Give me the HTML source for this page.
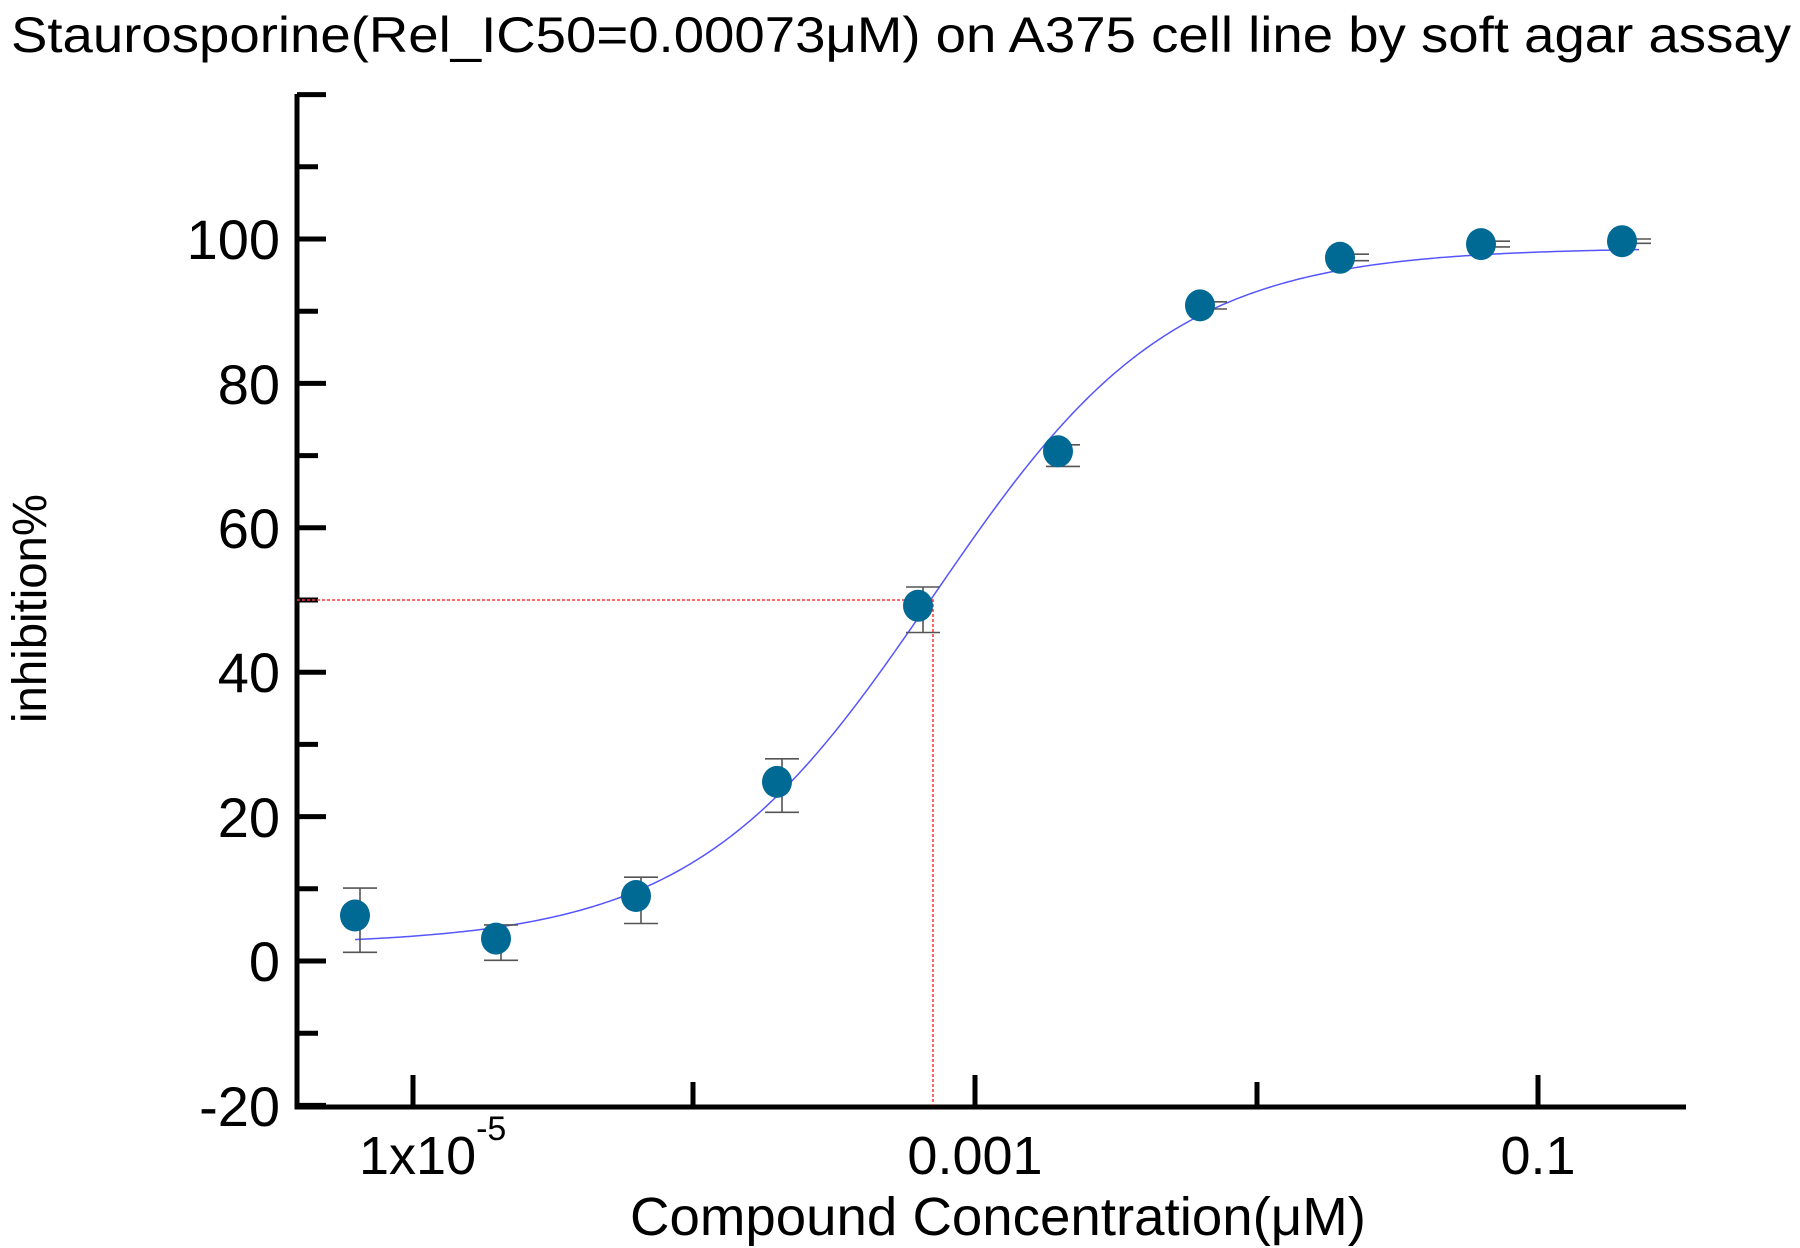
<!DOCTYPE html>
<html><head><meta charset="utf-8"><style>
html,body{margin:0;padding:0;background:#fff;}
svg{display:block;}
text{font-family:"Liberation Sans",Arial,sans-serif;fill:#000;}
</style></head><body>
<svg id="s" width="1800" height="1248" viewBox="0 0 1800 1248" xmlns="http://www.w3.org/2000/svg">
<rect width="1800" height="1248" fill="#fff"/>
<text x="11" y="52" font-size="50" textLength="1780" lengthAdjust="spacingAndGlyphs">Staurosporine(Rel_IC50=0.00073μM) on A375 cell line by soft agar assay</text>
<g id="ax" stroke="#000" stroke-width="5" fill="none">
<path d="M297,94 V1107 H1686"/>
</g>
<g font-size="56" text-anchor="end">
<text x="280" y="259">100</text>
<text x="280" y="404">80</text>
<text x="280" y="548">60</text>
<text x="280" y="692">40</text>
<text x="280" y="837">20</text>
<text x="280" y="981">0</text>
<text x="280" y="1126">-20</text>
</g>
<text x="359" y="1174" font-size="54">1x10<tspan font-size="34" dy="-34">-5</tspan></text>
<g font-size="54" text-anchor="middle">
<text x="975" y="1174">0.001</text>
<text x="1538" y="1174">0.1</text>
</g>
<text x="630" y="1235" font-size="54" textLength="736" lengthAdjust="spacingAndGlyphs">Compound Concentration(μM)</text>
<text transform="translate(46,723) rotate(-90)" font-size="48" textLength="229" lengthAdjust="spacingAndGlyphs">inhibition%</text>
<g stroke="#ff3333" stroke-width="1.5" stroke-dasharray="3,2" fill="none">
<path d="M297,600 H933 V1105"/>
</g>
<path id="curve" stroke="#5555ff" stroke-width="1.5" fill="none" d=""/>
<g id="pts"></g>
</svg>
<script>
var s="http://www.w3.org/2000/svg";
var ax=document.getElementById('ax');
function Y(v){return 961-(v)*7.22;}
var d="";
for(var v=-20;v<=120;v+=10){var y=Y(v);var L=(v%20==0)?29:21;d+="M297,"+y.toFixed(1)+" h"+L+" ";}
var xs=[413,693,975,1257,1538];
for(var i=0;i<5;i++){var L=(i%2==0)?32:25;d+="M"+xs[i]+",1107 v-"+L+" ";}
var p=document.createElementNS(s,'path');p.setAttribute('d',d);ax.appendChild(p);
var B=2.2,T=98.8,h=1.02,xc=933,dec=281.3;
var c="";
for(var x=355;x<=1640;x+=3){var v=B+(T-B)/(1+Math.pow(10,(xc-x)/dec*h));c+=(x==355?"M":"L")+x+","+Y(v).toFixed(2)+" ";}
document.getElementById('curve').setAttribute('d',c);
var pts=[[355,6.3,1.2,10.1,5],[496,3.1,0.1,5.0,5],[636,9.0,5.2,11.6,5],[777,24.8,20.6,28.0,5],[918,49.2,45.5,51.8,5],[1058,70.6,68.5,71.5,5],[1200,90.8,90.3,91.3,10],[1340,97.4,97.0,97.9,12],[1481,99.3,98.9,99.7,12],[1622,99.7,99.4,100,12]];
var g=document.getElementById('pts');var eb="";
for(var i=0;i<pts.length;i++){var q=pts[i];var ex=q[0]+q[4];
eb+="M"+ex+","+Y(q[3]).toFixed(1)+" V"+Y(q[2]).toFixed(1)+" M"+(ex-17)+","+Y(q[3]).toFixed(1)+" h34 M"+(ex-17)+","+Y(q[2]).toFixed(1)+" h34 ";}
var e=document.createElementNS(s,'path');e.setAttribute('d',eb);e.setAttribute('stroke','#555');e.setAttribute('stroke-width','1.6');e.setAttribute('fill','none');g.appendChild(e);
for(var i=0;i<pts.length;i++){var q=pts[i];var el=document.createElementNS(s,'ellipse');el.setAttribute('cx',q[0]);el.setAttribute('cy',Y(q[1]).toFixed(1));el.setAttribute('rx',15);el.setAttribute('ry',16);el.setAttribute('fill','#006994');g.appendChild(el);}
</script>
</body></html>
